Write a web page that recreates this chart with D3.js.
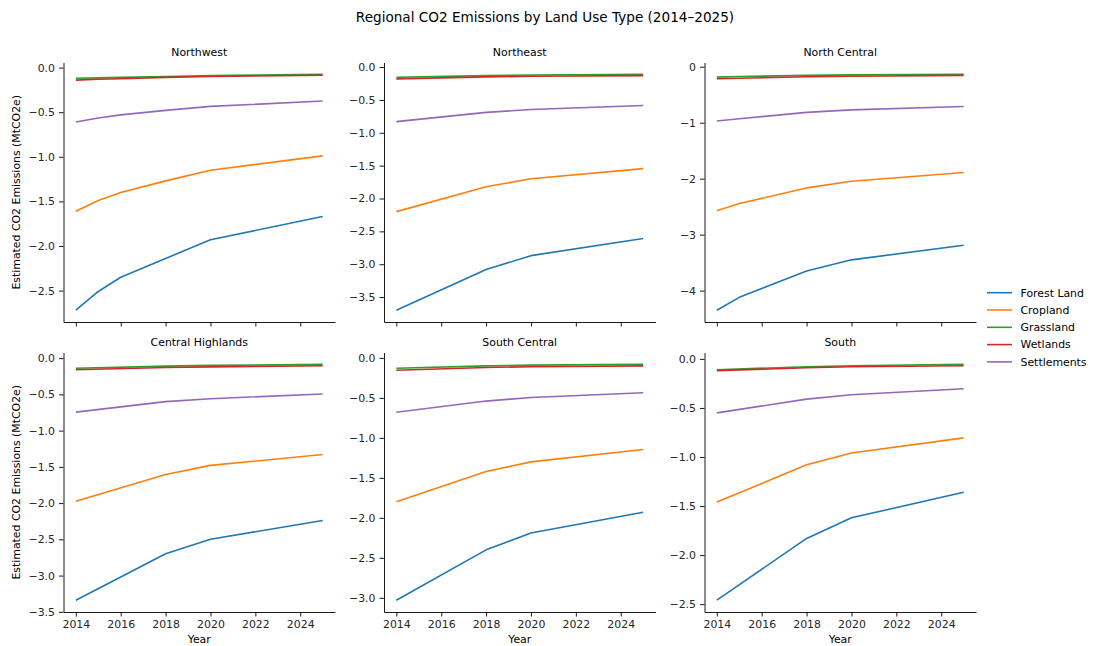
<!DOCTYPE html>
<html>
<head>
<meta charset="utf-8">
<script src="https://cdn.jsdelivr.net/npm/d3@7/dist/d3.min.js"></script>
<style>
  html, body { margin: 0; padding: 0; background: #fff; }
  svg { display: block; font-family: "DejaVu Sans", sans-serif; }
  .tick text { fill: #262626; }
</style>
</head>
<body>
<svg id="chart" width="1093" height="646"></svg>
<script>
// Land use categories and their line colours
const landUses = ["Forest Land", "Cropland", "Grassland", "Wetlands", "Settlements"];
const landColors = ["#1f77b4", "#ff7f0e", "#2ca02c", "#d62728", "#9467bd"];

// Regions in facet order (row-major)
const regions = ["Northwest", "Northeast", "North Central", "Central Highlands", "South Central", "South"];

// Estimated CO2 emissions (MtCO2e); one row per land use, in landUses order
const northwestYears = [2014, 2015, 2016, 2018, 2020, 2025];
const northwestValues = [
  [-2.72, -2.51, -2.35, -2.14, -1.93, -1.67],
  [-1.61, -1.49, -1.40, -1.27, -1.15, -0.99],
  [-0.12, -0.115, -0.11, -0.10, -0.09, -0.075],
  [-0.14, -0.13, -0.125, -0.11, -0.10, -0.085],
  [-0.61, -0.565, -0.53, -0.48, -0.435, -0.375]
];

const northeastYears = [2014, 2018, 2020, 2025];
const northeastValues = [
  [-3.70, -3.08, -2.87, -2.61],
  [-2.20, -1.82, -1.70, -1.545],
  [-0.155, -0.13, -0.12, -0.11],
  [-0.18, -0.15, -0.14, -0.13],
  [-0.83, -0.69, -0.645, -0.585]
];

const northCentralYears = [2014, 2015, 2018, 2020, 2025];
const northCentralValues = [
  [-4.35, -4.12, -3.65, -3.45, -3.19],
  [-2.575, -2.445, -2.165, -2.045, -1.89],
  [-0.185, -0.175, -0.155, -0.145, -0.135],
  [-0.215, -0.205, -0.18, -0.17, -0.155],
  [-0.97, -0.93, -0.815, -0.77, -0.71]
];

const centralHighlandsYears = [2014, 2018, 2020, 2025];
const centralHighlandsValues = [
  [-3.34, -2.70, -2.50, -2.24],
  [-1.975, -1.605, -1.48, -1.33],
  [-0.14, -0.11, -0.10, -0.085],
  [-0.16, -0.13, -0.12, -0.105],
  [-0.745, -0.60, -0.56, -0.495]
];

const southCentralYears = [2014, 2018, 2020, 2025];
const southCentralValues = [
  [-3.03, -2.40, -2.19, -1.93],
  [-1.80, -1.42, -1.30, -1.145],
  [-0.13, -0.10, -0.09, -0.08],
  [-0.155, -0.12, -0.11, -0.10],
  [-0.68, -0.54, -0.495, -0.435]
];

const southYears = [2014, 2018, 2020, 2025];
const southValues = [
  [-2.46, -1.83, -1.62, -1.36],
  [-1.46, -1.08, -0.96, -0.805],
  [-0.11, -0.08, -0.07, -0.055],
  [-0.12, -0.09, -0.08, -0.07],
  [-0.55, -0.41, -0.365, -0.305]
];

// Axis tick values
const xTicks = [2014, 2016, 2018, 2020, 2022, 2024];
const yTicksByRegion = [
  [0, -0.5, -1, -1.5, -2, -2.5],
  [0, -0.5, -1, -1.5, -2, -2.5, -3, -3.5],
  [0, -1, -2, -3, -4],
  [0, -0.5, -1, -1.5, -2, -2.5, -3, -3.5],
  [0, -0.5, -1, -1.5, -2, -2.5, -3],
  [0, -0.5, -1, -1.5, -2, -2.5]
];
const yDecimals = [1, 1, 0, 1, 1, 1];

const regionYears = [northwestYears, northeastYears, northCentralYears,
                     centralHighlandsYears, southCentralYears, southYears];
const regionValues = [northwestValues, northeastValues, northCentralValues,
                      centralHighlandsValues, southCentralValues, southValues];

// ---- layout ----
const svg = d3.select("#chart");
const colLeft = [63.5, 384, 704.5];
const panelW = 271.5;
const rowTop = [62.5, 352.5];
const panelH = 259.5;
const fontSize = 10.9;

const minus = s => s.replace("-", "\u2212");

svg.append("text")
  .attr("x", 545).attr("y", 22)
  .attr("text-anchor", "middle")
  .attr("font-size", 13.6)
  .attr("fill", "#000")
  .text("Regional CO2 Emissions by Land Use Type (2014\u20132025)");

const line = d3.line();

regions.forEach((name, i) => {
  const col = i % 3, row = Math.floor(i / 3);
  const x0 = colLeft[col], y0 = rowTop[row];
  const years = regionYears[i];
  const values = regionValues[i];

  // 5% padding around the data, both axes
  const xMin = d3.min(years), xMax = d3.max(years);
  const xPad = (xMax - xMin) * 0.05;
  const allVals = values.flat();
  const vMin = d3.min(allVals), vMax = d3.max(allVals);
  const yPad = (vMax - vMin) * 0.05;

  const x = d3.scaleLinear().domain([xMin - xPad, xMax + xPad]).range([0, panelW]);
  const y = d3.scaleLinear().domain([vMin - yPad, vMax + yPad]).range([panelH, 0]);

  const g = svg.append("g").attr("transform", `translate(${x0},${y0})`);

  // panel title
  g.append("text")
    .attr("x", panelW / 2).attr("y", -7)
    .attr("text-anchor", "middle")
    .attr("font-size", fontSize)
    .attr("fill", "#000")
    .text(name);

  // lines
  values.forEach((vals, k) => {
    g.append("path")
      .attr("d", line(years.map((yr, j) => [x(yr), y(vals[j])])))
      .attr("fill", "none")
      .attr("stroke", landColors[k])
      .attr("stroke-width", 1.6)
      .attr("stroke-linejoin", "round")
      .attr("stroke-linecap", "butt");
  });

  // y axis
  const fmt = d3.format(`.${yDecimals[i]}f`);
  const yAxis = d3.axisLeft(y)
    .tickValues(yTicksByRegion[i])
    .tickSize(4.5).tickSizeOuter(0).tickPadding(4)
    .tickFormat(d => minus(fmt(d)));
  const ya = g.append("g").call(yAxis);

  // x axis
  const xAxis = d3.axisBottom(x)
    .tickValues(xTicks)
    .tickSize(4.5).tickSizeOuter(0).tickPadding(4)
    .tickFormat(row === 1 ? d3.format("d") : () => "");
  const xa = g.append("g").attr("transform", `translate(0,${panelH})`).call(xAxis);

  [ya, xa].forEach(a => {
    a.attr("font-family", "DejaVu Sans, sans-serif").attr("font-size", fontSize);
    a.selectAll(".domain").attr("stroke", "#000").attr("stroke-width", 0.9);
    a.selectAll(".tick line").attr("stroke", "#000").attr("stroke-width", 0.9);
  });

  if (row === 1) {
    g.append("text")
      .attr("x", panelW / 2).attr("y", panelH + 31)
      .attr("text-anchor", "middle")
      .attr("font-size", fontSize)
      .attr("fill", "#000")
      .text("Year");
  }
  if (col === 0) {
    g.append("text")
      .attr("transform", `translate(${20 - x0},${panelH / 2}) rotate(-90)`)
      .attr("text-anchor", "middle")
      .attr("font-size", fontSize)
      .attr("fill", "#000")
      .text("Estimated CO2 Emissions (MtCO2e)");
  }
});

// legend
const legend = svg.append("g").attr("transform", "translate(987,292.7)");
landUses.forEach((name, k) => {
  const ly = k * 17.3;
  legend.append("line")
    .attr("x1", 0).attr("x2", 25)
    .attr("y1", ly).attr("y2", ly)
    .attr("stroke", landColors[k])
    .attr("stroke-width", 1.6);
  legend.append("text")
    .attr("x", 33.5).attr("y", ly)
    .attr("dy", "0.35em")
    .attr("font-size", fontSize)
    .attr("fill", "#000")
    .text(name);
});
</script>
</body>
</html>
